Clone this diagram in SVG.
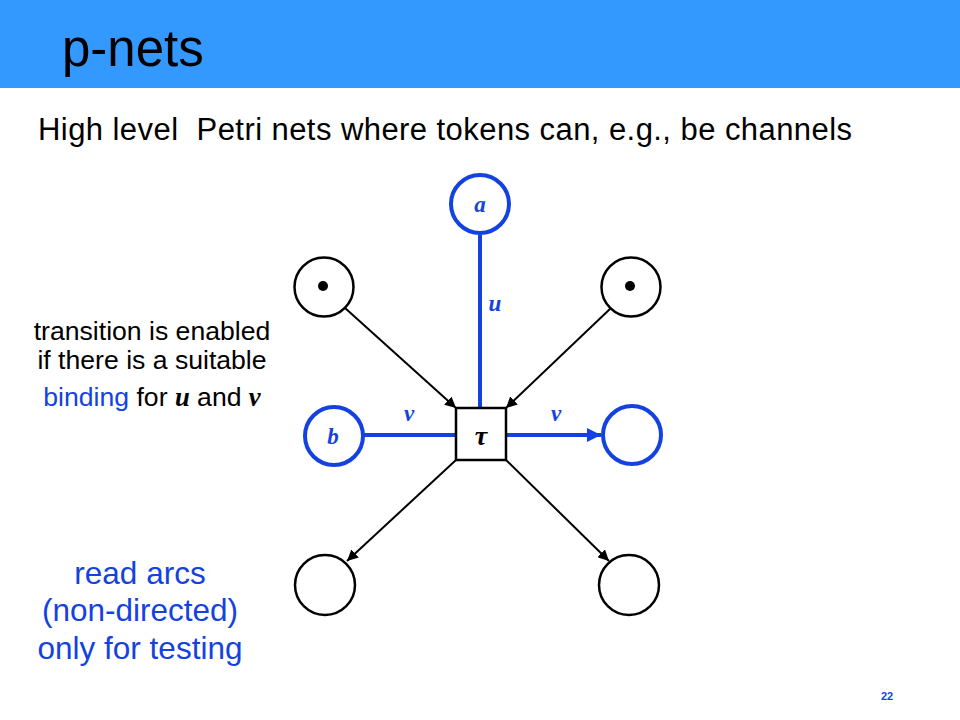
<svg xmlns="http://www.w3.org/2000/svg" width="960" height="720" viewBox="0 0 960 720">
<defs>
<marker id="ab" viewBox="0 0 10 10" refX="10" refY="5" markerWidth="11" markerHeight="11" markerUnits="userSpaceOnUse" orient="auto"><path d="M0,0 L10,5 L0,10 Z" fill="#000"/></marker>
<marker id="au" viewBox="0 0 10 10" refX="10" refY="5" markerWidth="16" markerHeight="14" markerUnits="userSpaceOnUse" orient="auto"><path d="M0,0 L10,5 L0,10 Z" fill="#1442E0"/></marker>
</defs>
<style>
.t{font-family:"Liberation Sans",Arial,sans-serif}
.pb{fill:#fff;stroke:#000;stroke-width:2.5}
.pu{fill:#fff;stroke:#1442E0;stroke-width:4}
.lb{stroke:#000;stroke-width:2;fill:none}
.lu{stroke:#1442E0;stroke-width:4;fill:none}
.it{font-family:"Liberation Serif","Times New Roman",serif;font-style:italic;font-weight:bold;fill:#1442E0}
</style>
<rect x="0" y="0" width="960" height="88" fill="#3399FF"/>
<text class="t" x="62" y="66" font-size="51" fill="#000">p-nets</text>
<text class="t" x="38" y="140" font-size="31" fill="#000" textLength="814" lengthAdjust="spacing" xml:space="preserve">High level  Petri nets where tokens can, e.g., be channels</text>

<g id="connectors">
<line class="lb" x1="345" y1="308" x2="456" y2="408" marker-end="url(#ab)"/>
<line class="lb" x1="611" y1="308" x2="506" y2="408" marker-end="url(#ab)"/>
<line class="lb" x1="456" y1="460" x2="347" y2="561" marker-end="url(#ab)"/>
<line class="lb" x1="506" y1="460" x2="609" y2="561" marker-end="url(#ab)"/>
<line class="lu" x1="480" y1="235" x2="480" y2="408"/>
<line class="lu" x1="364" y1="435" x2="456" y2="435"/>
<line class="lu" x1="506" y1="435" x2="601" y2="435" marker-end="url(#au)"/>
<text class="it" x="495" y="311" font-size="23" text-anchor="middle">u</text>
<text class="it" x="409" y="421" font-size="23" text-anchor="middle">v</text>
<text class="it" x="556" y="421" font-size="23" text-anchor="middle">v</text>
</g>

<g id="place-a"><circle class="pu" cx="480" cy="204" r="29"/><text class="it" x="480" y="212" font-size="23" text-anchor="middle">a</text></g>
<g id="place-tl"><circle class="pb" cx="324" cy="287" r="29.5"/><circle cx="323" cy="286" r="5" fill="#000"/></g>
<g id="place-tr"><circle class="pb" cx="631" cy="287" r="29.5"/><circle cx="630" cy="286" r="5" fill="#000"/></g>
<g id="place-b"><circle class="pu" cx="334" cy="436" r="29"/><text class="it" x="333" y="444" font-size="23" text-anchor="middle">b</text></g>
<g id="place-r"><circle class="pu" cx="632" cy="435" r="29"/></g>
<g id="place-bl"><circle class="pb" cx="325" cy="585" r="30"/></g>
<g id="place-br"><circle class="pb" cx="629" cy="585" r="30"/></g>
<g id="transition"><rect x="456" y="408" width="50" height="52" fill="#fff" stroke="#000" stroke-width="2.5"/><text x="481" y="445" font-family="'Liberation Serif','Times New Roman',serif" font-weight="bold" font-style="italic" font-size="28" text-anchor="middle">τ</text></g>

<g class="t" font-size="26.6" text-anchor="middle">
<text x="152" y="340" fill="#000">transition is enabled</text>
<text x="152" y="369" fill="#000">if there is a suitable</text>
<text x="152" y="406" fill="#000"><tspan fill="#1442E0">binding</tspan> for <tspan font-family="'Liberation Serif','Times New Roman',serif" font-style="italic" font-weight="bold">u</tspan> and <tspan font-family="'Liberation Serif','Times New Roman',serif" font-style="italic" font-weight="bold">v</tspan></text>
</g>
<g class="t" font-size="31.5" text-anchor="middle" fill="#1442E0">
<text x="140" y="584">read arcs</text>
<text x="140" y="621">(non-directed)</text>
<text x="140" y="659">only for testing</text>
</g>
<text class="t" x="887" y="700" font-size="11" font-weight="bold" fill="#1442E0" text-anchor="middle">22</text>
</svg>
